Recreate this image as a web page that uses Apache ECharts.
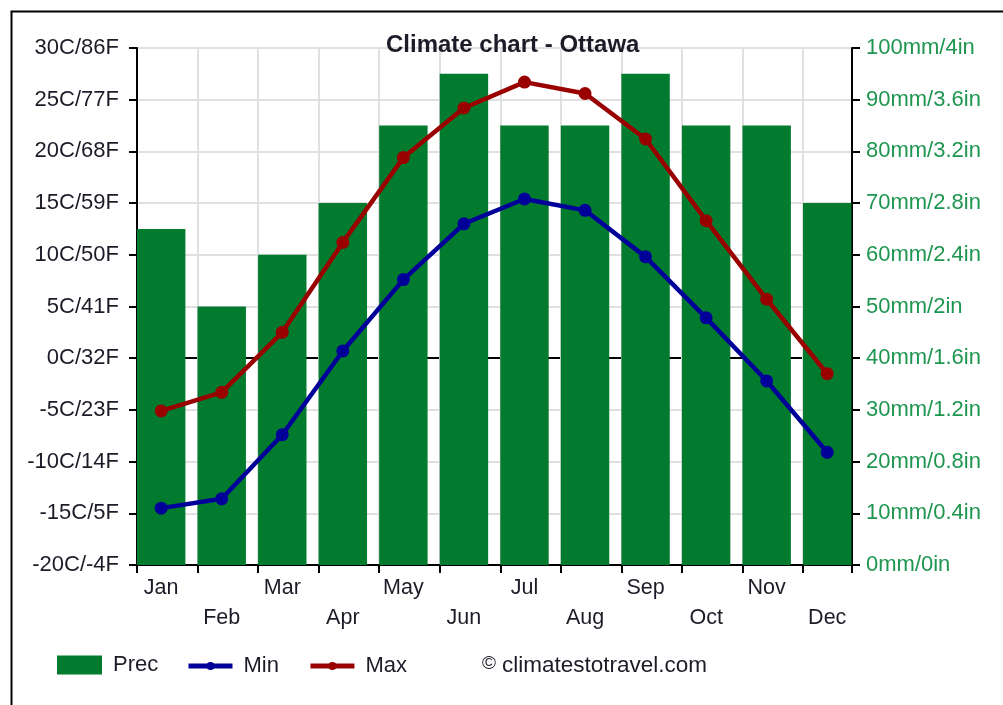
<!DOCTYPE html>
<html>
<head>
<meta charset="utf-8">
<title>Climate chart - Ottawa</title>
<script src="https://cdn.jsdelivr.net/npm/echarts@6.0.0/dist/echarts.min.js"></script>
<style>
    html, body {margin: 0; padding: 0; background: #fff;}
    #main {width: 1003px; height: 705px;}
</style>
</head>
<body>
<div id="main"></div>
<script>
// 月份
var months = ['Jan', 'Feb', 'Mar', 'Apr', 'May', 'Jun', 'Jul', 'Aug', 'Sep', 'Oct', 'Nov', 'Dec'];
// 降水 (mm)
var prec = [65, 50, 60, 70, 85, 95, 85, 85, 95, 85, 85, 70];
// 最低 / 最高气温 (C)
var tempMin = [-14.5, -13.6, -7.4, 0.7, 7.6, 13.0, 15.4, 14.3, 9.8, 3.9, -2.2, -9.1];
var tempMax = [-5.1, -3.3, 2.5, 11.2, 19.4, 24.2, 26.7, 25.6, 21.2, 13.3, 5.7, -1.5];
// 刻度文字
var tempTicks = ['-20C/-4F', '-15C/5F', '-10C/14F', '-5C/23F', '0C/32F', '5C/41F', '10C/50F', '15C/59F', '20C/68F', '25C/77F', '30C/86F'];
var precTicks = ['0mm/0in', '10mm/0.4in', '20mm/0.8in', '30mm/1.2in', '40mm/1.6in', '50mm/2in', '60mm/2.4in', '70mm/2.8in', '80mm/3.2in', '90mm/3.6in', '100mm/4in'];

var font = 'Arial, "Liberation Sans", sans-serif';
var gridColor = '#e0e0e0';
var textColor = '#1c1c28';

// 横向网格线, 0C 那条是黑色
var hLineColors = [];
for (var i = 0; i < tempTicks.length; i++) {
    hLineColors.push(tempTicks[i].indexOf('0C/') === 0 ? '#000' : gridColor);
}

var option = {
    animation: false,
    backgroundColor: '#fff',
    title: {
        text: 'Climate chart - Ottawa',
        left: 381,
        top: 28,
        textStyle: {fontFamily: font, fontSize: 24, fontWeight: 'bold', color: textColor}
    },
    legend: [{
        // 降水图例
        data: [{name: 'Prec', icon: 'rect'}],
        left: 57,
        top: 654,
        padding: 0,
        itemWidth: 45,
        itemHeight: 19,
        textStyle: {fontFamily: font, fontSize: 22, color: textColor, padding: [0, 0, 0, 6]}
    }, {
        // 气温图例
        data: ['Min', 'Max'],
        left: 186,
        top: 655,
        padding: 0,
        itemWidth: 44,
        itemHeight: 10,
        itemGap: 29,
        lineStyle: {width: 5},
        textStyle: {fontFamily: font, fontSize: 22, color: textColor, padding: [0, 0, 0, 6]}
    }],
    grid: [
        // 坐标轴和网格
        {left: 137, top: 48, width: 715, height: 517},
        // 柱子和折线
        {left: 130.9, top: 48, width: 726.6, height: 517}
    ],
    xAxis: [{
        type: 'value',
        gridIndex: 0,
        min: 0,
        max: 11.81,
        interval: 1,
        axisLine: {show: true, onZero: false, lineStyle: {color: '#000', width: 2}},
        axisTick: {show: true, length: 8, lineStyle: {color: '#000', width: 2}},
        axisLabel: {show: false},
        splitLine: {show: true, lineStyle: {color: gridColor, width: 2}}
    }, {
        type: 'category',
        gridIndex: 1,
        data: months,
        boundaryGap: true,
        axisLine: {show: false},
        axisTick: {show: false},
        splitLine: {show: false},
        axisLabel: {
            interval: 0,
            margin: 8,
            lineHeight: 30,
            fontFamily: font,
            fontSize: 21.5,
            color: textColor,
            formatter: function (value, index) {
                return index % 2 ? '\n' + value : value;
            }
        }
    }],
    yAxis: [{
        type: 'value',
        gridIndex: 0,
        position: 'left',
        min: -20,
        max: 30,
        interval: 5,
        axisLine: {show: true, onZero: false, lineStyle: {color: '#000', width: 2}},
        axisTick: {show: true, length: 8, lineStyle: {color: '#000', width: 2}},
        axisLabel: {
            margin: 18,
            fontFamily: font,
            fontSize: 22,
            color: textColor,
            formatter: function (v) {
                return tempTicks[Math.round((v + 20) / 5)];
            }
        },
        splitLine: {show: true, lineStyle: {color: hLineColors, width: 2}}
    }, {
        type: 'value',
        gridIndex: 0,
        position: 'right',
        min: 0,
        max: 100,
        interval: 10,
        axisLine: {show: true, onZero: false, lineStyle: {color: '#000', width: 2}},
        axisTick: {show: true, length: 8, lineStyle: {color: '#000', width: 2}},
        axisLabel: {
            margin: 14,
            fontFamily: font,
            fontSize: 22,
            color: '#1e9650',
            formatter: function (v) {
                return precTicks[Math.round(v / 10)];
            }
        },
        splitLine: {show: false}
    }, {
        type: 'value',
        gridIndex: 1,
        min: -20,
        max: 30,
        show: false
    }, {
        type: 'value',
        gridIndex: 1,
        min: 0,
        max: 100,
        show: false
    }],
    series: [{
        name: 'Prec',
        type: 'bar',
        xAxisIndex: 1,
        yAxisIndex: 3,
        barWidth: '80%',
        data: prec,
        itemStyle: {color: '#037b2f'}
    }, {
        name: 'Min',
        type: 'line',
        xAxisIndex: 1,
        yAxisIndex: 2,
        data: tempMin,
        symbol: 'circle',
        symbolSize: 13,
        lineStyle: {color: '#000099', width: 4.5},
        itemStyle: {color: '#000099'}
    }, {
        name: 'Max',
        type: 'line',
        xAxisIndex: 1,
        yAxisIndex: 2,
        data: tempMax,
        symbol: 'circle',
        symbolSize: 13,
        lineStyle: {color: '#990000', width: 4.5},
        itemStyle: {color: '#990000'}
    }],
    graphic: [{
        type: 'rect',
        left: 9,
        top: 9,
        shape: {width: 1100, height: 800},
        style: {fill: 'none', stroke: '#000', lineWidth: 2},
        silent: true
    }, {
        type: 'text',
        left: 482,
        top: 654,
        style: {
            text: '{c|©}climatestotravel.com',
            font: '22.5px Arial, "Liberation Sans", sans-serif',
            fill: textColor,
            rich: {
                c: {fontSize: 19, fontFamily: font, fill: textColor, padding: [0, 6, 5, 0]}
            }
        }
    }]
};

var myChart = echarts.init(document.getElementById('main'));
myChart.setOption(option);
</script>
</body>
</html>
